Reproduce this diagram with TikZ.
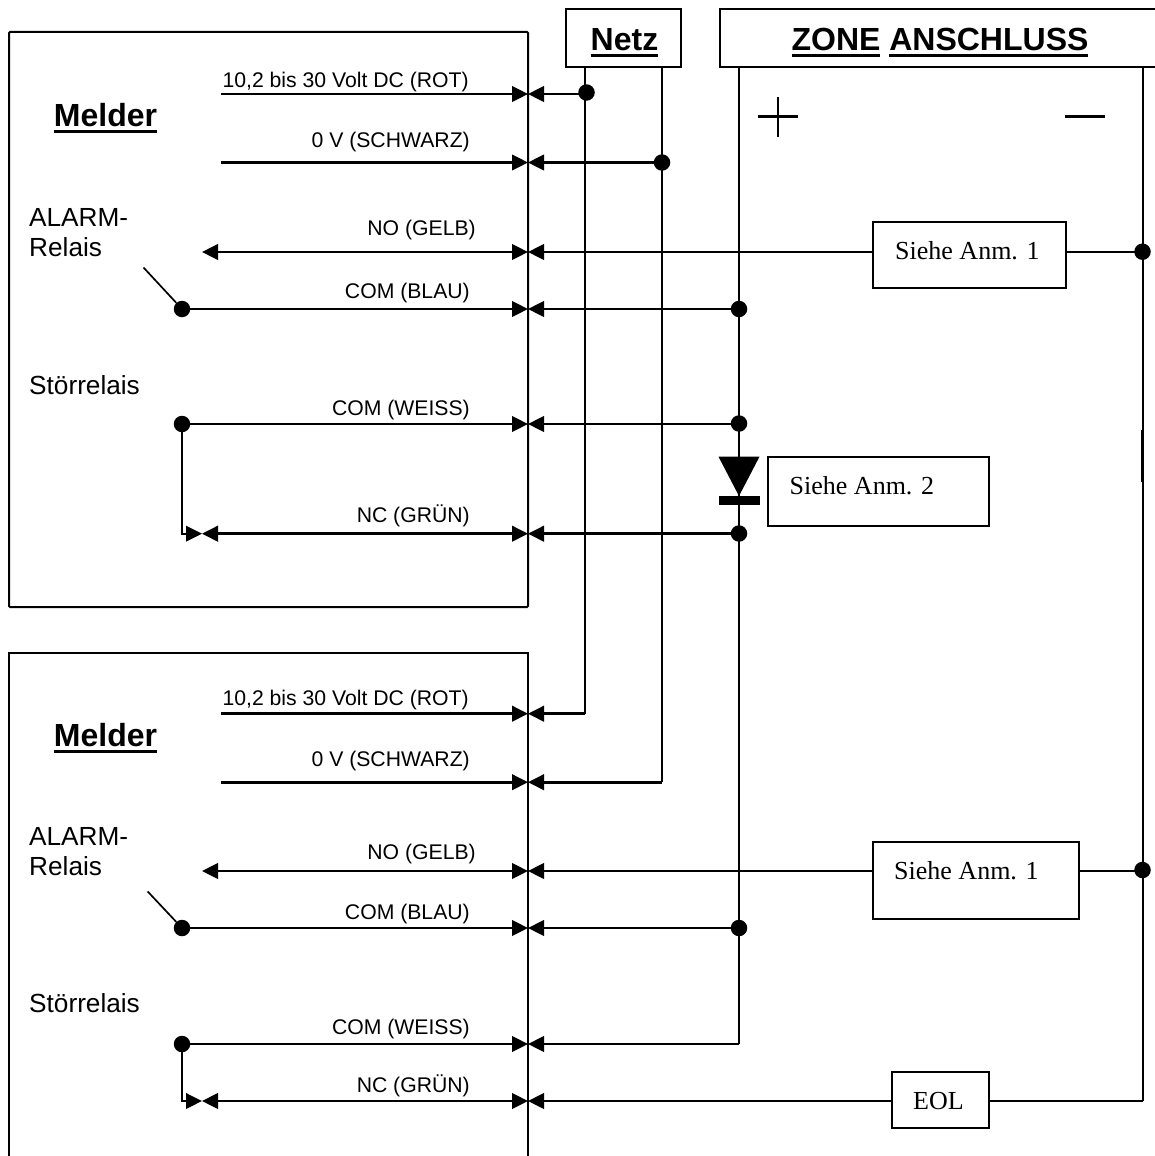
\documentclass[tikz,border=0pt]{standalone}
\usepackage{fontspec}
\setmainfont{Liberation Sans}
\newfontfamily\serifface{Liberation Serif}
\usetikzlibrary{arrows.meta}
\newcommand{\ul}[1]{\setbox0\hbox{#1}\rlap{\vrule width\wd0 height-3.7pt depth 6.6pt}\box0\relax}
\tikzset{
  x=1pt,y=-1pt,
  wire/.style={line width=2.6pt,black},
  thin wire/.style={line width=2pt,black},
  both tips/.style={wire,{Triangle[length=16pt,width=15.5pt]}-{Triangle[length=16pt,width=15.5pt]}},
  end tip/.style={wire,-{Triangle[length=16pt,width=15.5pt]}},
  start tip/.style={wire,{Triangle[length=16pt,width=15.5pt]}-},
  dot/.style={circle,fill=black,inner sep=0pt,minimum size=16.5pt},
  boxx/.style={draw=black,line width=2pt,fill=white,inner sep=0pt},
  wirelabel/.style={font=\fontsize{21.2}{24}\selectfont,anchor=base east,inner sep=0pt},
  headlabel/.style={font=\fontsize{32}{36}\selectfont\bfseries,anchor=base,inner sep=0pt},
  sidelabel/.style={font=\fontsize{26.2}{30}\selectfont,anchor=base west,inner sep=0pt,align=left},
  notelabel/.style={font=\serifface\fontsize{26}{29}\selectfont,anchor=base west,inner sep=0pt},
}
\begin{document}
\begin{tikzpicture}
\useasboundingbox (0,0) rectangle (1155,1156);
\fill[white] (0,0) rectangle (1155,1156);

% Melder frames
\draw[thin wire,rounded corners=1pt] (528,607) -- (9,607) -- (9,32) -- (528,32) -- cycle;
\draw[thin wire] (9,1156) -- (9,652.5) -- (528,652.5) -- (528,1156);

% Header boxes
\node[boxx,minimum width=115pt,minimum height=58pt] (netz) at (623.5,38) {};
\node[headlabel] (netzt) at (624.5,50.3) {\ul{Netz}};
\draw[thin wire] (1155,67) -- (720,67) -- (720,9) -- (1155,9);
\coordinate (zoneL) at (739,67);
\coordinate (zoneR) at (1142.5,67);
\node[headlabel] (zonet) at (940,50.3) {\ul{ZONE} \ul{ANSCHLUSS}};

% Named points
\coordinate (netzP) at (585.3,67);
\coordinate (netzN) at (662,67);
\coordinate (bus1) at (528,94);
\coordinate (bus2) at (528,162.5);
\coordinate (bus3) at (528,252);
\coordinate (bus4) at (528,309);
\coordinate (bus5) at (528,424);
\coordinate (bus6) at (528,533.7);
\coordinate (bus7) at (528,713.7);
\coordinate (bus8) at (528,782.2);
\coordinate (bus9) at (528,871);
\coordinate (bus10) at (528,928);
\coordinate (bus11) at (528,1044);
\coordinate (bus12) at (528,1101);

% Dots
\node[dot] (d1) at (586.5,92.5) {};
\node[dot] (d2) at (662,162.5) {};
\node[dot] (d3) at (1142.5,251.7) {};
\node[dot] (d4) at (739,309) {};
\node[dot] (d5) at (739,423.5) {};
\node[dot] (d6) at (739,533.5) {};
\node[dot] (d7) at (1142.5,870) {};
\node[dot] (d8) at (739,928) {};
\node[dot] (s1) at (182,309) {};
\node[dot] (s2) at (182,424) {};
\node[dot] (s3) at (182,928) {};
\node[dot] (s4) at (182,1044) {};

% Note boxes
\node[boxx,minimum width=193pt,minimum height=66pt] (n1) at (969.5,255) {};
\node[notelabel] at (895,259) {Siehe Anm. 1};
\node[boxx,minimum width=221pt,minimum height=68.5pt] (n2) at (878.5,491.5) {};
\node[notelabel] at (789.5,494.2) {Siehe Anm. 2};
\node[boxx,minimum width=206pt,minimum height=77pt] (n3) at (976,880.5) {};
\node[notelabel] at (894,879.2) {Siehe Anm. 1};
\node[boxx,minimum width=96.5pt,minimum height=55.5pt] (eol) at (940.5,1100) {};
\node[notelabel] at (913,1109.2) {EOL};

% Vertical supply lines
\draw[thin wire] (netzP) -- (585.3,713.7) coordinate (p2);
\draw[thin wire] (netzN) -- (662,782.2) coordinate (n2b);
\draw[thin wire] (zoneL) -- (d6.center) -- (739,1044) coordinate (z2);
\draw[thin wire] (zoneR) -- (1142.5,1101) coordinate (z3);
\coordinate (gl1) at (1142.5,430);
\coordinate (gl2) at (1142.5,482);
\draw[line width=3.2pt] (gl1) -- (gl2);

% Plus / minus
\coordinate (pl) at (758,116.5);
\coordinate (pr) at (798,116.5);
\coordinate (pt) at (778,97);
\coordinate (pb) at (778,137);
\coordinate (ml) at (1065,116.5);
\coordinate (mr) at (1105,116.5);
\draw[line width=3.8pt] (pl) -- (pr);
\draw[line width=2.6pt] (pt) -- (pb);
\draw[line width=3.8pt] (ml) -- (mr);

% Diode
\fill[black] (718.5,456.7) -- (759.5,456.7) -- (739,496) -- cycle;
\fill[black] (718.5,496) rectangle (759.5,505);

% Wires, frame 1
\coordinate (a1) at (221,94);
\coordinate (a2) at (221,162.5);
\draw[end tip] (a1) -- (bus1);
\draw[start tip] (bus1) -- (d1 |- bus1);
\draw[end tip] (a2) -- (bus2);
\draw[start tip] (bus2) -- (d2);
\coordinate (a3) at (202,252);
\draw[both tips] (a3) -- (bus3);
\draw[start tip] (bus3) -- (n1.west |- bus3);
\draw[thin wire] (n1.east |- bus3) -- (d3 |- bus3);
\draw[end tip] (s1) -- (bus4);
\draw[start tip] (bus4) -- (d4);
\draw[end tip] (s2) -- (bus5);
\draw[start tip] (bus5) -- (d5 |- bus5);
\coordinate (a6) at (202,533.7);
\coordinate (c1) at (182,533.7);
\draw[both tips] (a6) -- (bus6);
\draw[start tip] (bus6) -- (d6 |- bus6);
\draw[thin wire,-{Triangle[length=16pt,width=15.5pt]}] (s2.center) -- (c1) -- (a6);

% Wires, frame 2
\coordinate (a7) at (221,713.7);
\coordinate (a8) at (221,782.2);
\draw[end tip] (a7) -- (bus7);
\draw[start tip] (bus7) -- (p2);
\draw[end tip] (a8) -- (bus8);
\draw[start tip] (bus8) -- (n2b);
\coordinate (a9) at (202,871);
\draw[both tips] (a9) -- (bus9);
\draw[start tip] (bus9) -- (n3.west |- bus9);
\draw[thin wire] (n3.east |- bus9) -- (d7 |- bus9);
\draw[end tip] (s3) -- (bus10);
\draw[start tip] (bus10) -- (d8);
\draw[end tip] (s4) -- (bus11);
\draw[start tip] (bus11) -- (z2);
\coordinate (a12) at (202,1101);
\coordinate (c2) at (182,1101);
\draw[both tips] (a12) -- (bus12);
\draw[start tip] (bus12) -- (eol.west |- bus12);
\draw[thin wire,-{Triangle[length=16pt,width=15.5pt]}] (s4.center) -- (c2) -- (a12);
\draw[thin wire] (eol.east |- bus12) -- (z3 |- bus12);

% Contact arms
\coordinate (arm1) at (143.5,267.5);
\coordinate (arm2) at (147.7,891.5);
\draw[line width=1.7pt] (arm1) -- (s1);
\draw[line width=1.7pt] (arm2) -- (s3);

% Side labels
\node[headlabel] at (105.5,126.5) {\ul{Melder}};
\node[headlabel] at (105.5,746.5) {\ul{Melder}};
\node[sidelabel] at (29,226) {ALARM-};
\node[sidelabel] at (29,256) {Relais};
\node[sidelabel] at (29,394) {Störrelais};
\node[sidelabel] at (29,845) {ALARM-};
\node[sidelabel] at (29,875) {Relais};
\node[sidelabel] at (29,1012) {Störrelais};

% Wire labels
\node[wirelabel] at (469,87) {10,2 bis 30 Volt DC (ROT)};
\node[wirelabel] at (470,147) {0 V (SCHWARZ)};
\node[wirelabel] at (476,235) {NO (GELB)};
\node[wirelabel] at (470,298) {COM (BLAU)};
\node[wirelabel] at (470,415) {COM (WEISS)};
\node[wirelabel] at (470,522) {NC (GRÜN)};
\node[wirelabel] at (469,705) {10,2 bis 30 Volt DC (ROT)};
\node[wirelabel] at (470,766) {0 V (SCHWARZ)};
\node[wirelabel] at (476,859) {NO (GELB)};
\node[wirelabel] at (470,919) {COM (BLAU)};
\node[wirelabel] at (470,1034) {COM (WEISS)};
\node[wirelabel] at (470,1092) {NC (GRÜN)};
\end{tikzpicture}
\end{document}
